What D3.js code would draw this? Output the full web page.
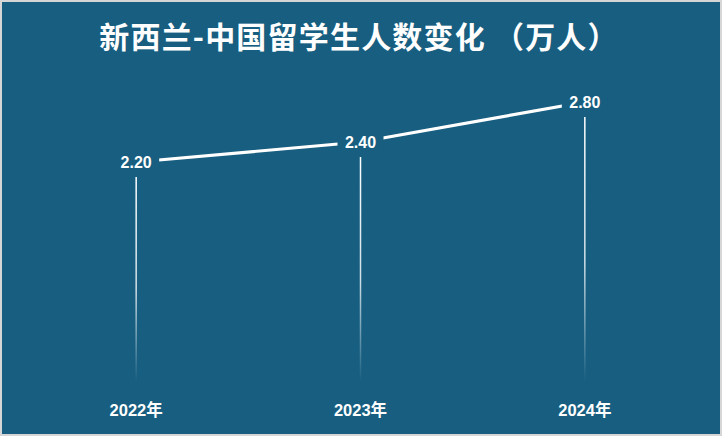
<!DOCTYPE html>
<html><head><meta charset="utf-8">
<script src="https://cdn.jsdelivr.net/npm/d3@7"></script>
<style>html,body{margin:0;padding:0;background:#d6d6d6;}svg{display:block;}</style>
</head><body>
<svg id="chart" width="722" height="436"></svg>
<script>
const title = "新西兰-中国留学生人数变化 （万人）";
const years = ["2022年", "2023年", "2024年"];
const values = [2.20, 2.40, 2.80];

const W = 722, H = 436;
const bg = "#175e80";
const svg = d3.select("#chart");
svg.append("rect").attr("x", 0).attr("y", 0).attr("width", W).attr("height", H).attr("fill", "#d6d6d6");
svg.append("rect").attr("x", 2).attr("y", 2).attr("width", 718).attr("height", 432).attr("fill", bg);

const defs = svg.append("defs");
const grad = defs.append("linearGradient").attr("id", "fade").attr("x1", 0).attr("y1", 0).attr("x2", 0).attr("y2", 1);
grad.append("stop").attr("offset", "0%").attr("stop-color", "#fff").attr("stop-opacity", 1);
grad.append("stop").attr("offset", "55%").attr("stop-color", "#fff").attr("stop-opacity", 0.8);
grad.append("stop").attr("offset", "100%").attr("stop-color", "#fff").attr("stop-opacity", 0);

const x = d3.scalePoint().domain(years).range([24, 697]).padding(0.5);
const y = d3.scaleLinear().domain([0, 3]).range([382, 82]);

const data = years.map((yr, i) => ({ yr, v: values[i] }));

svg.append("text").attr("x", W / 2 - 2).attr("y", 35)
  .attr("text-anchor", "middle").attr("dominant-baseline", "central")
  .attr("fill", "#fff").attr("font-family", "'Noto Sans CJK SC', sans-serif")
  .attr("font-weight", "bold").attr("font-size", 30).attr("letter-spacing", 1.2).text(title);

// vertical drop lines
svg.selectAll("rect.drop").data(data).join("rect").attr("class", "drop")
  .attr("x", d => x(d.yr) - 0.75).attr("width", 1.5)
  .attr("y", d => y(d.v) + 15).attr("height", d => y(0) - y(d.v) - 15)
  .attr("fill", "url(#fade)");

// line
svg.append("path").datum(data)
  .attr("d", d3.line().x(d => x(d.yr)).y(d => y(d.v)))
  .attr("fill", "none").attr("stroke", "#fff").attr("stroke-width", 3.2);

// value labels with background knockout
const lbl = svg.selectAll("g.lbl").data(data).join("g").attr("class", "lbl")
  .attr("transform", d => `translate(${x(d.yr)},${y(d.v)})`);
lbl.append("rect").attr("x", -23).attr("y", -12).attr("width", 46).attr("height", 24).attr("fill", bg);
lbl.append("text").attr("text-anchor", "middle").attr("dominant-baseline", "central")
  .attr("fill", "#fff").attr("font-family", "'Liberation Sans', Arial, sans-serif")
  .attr("font-weight", "bold").attr("font-size", 16).text(d => d.v.toFixed(2));

// x axis labels
svg.selectAll("text.xl").data(years).join("text").attr("class", "xl")
  .attr("x", d => x(d)).attr("y", 416).attr("text-anchor", "middle")
  .attr("fill", "#fff").attr("font-family", "'Liberation Sans', 'Noto Sans CJK SC', sans-serif")
  .attr("font-weight", "bold").attr("font-size", 16.5).text(d => d);
</script>
</body></html>
